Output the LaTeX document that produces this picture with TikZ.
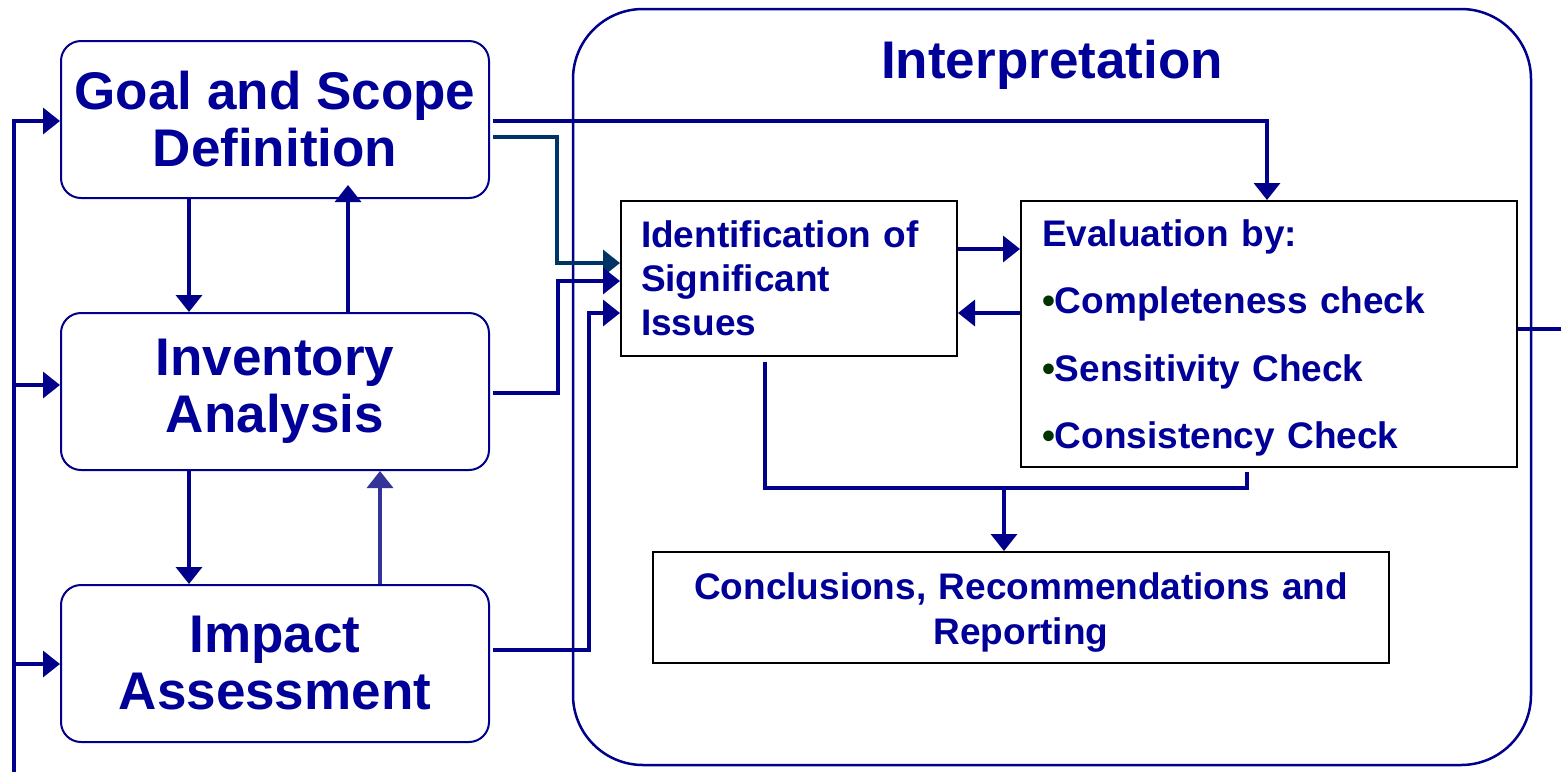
\documentclass[tikz,border=0pt]{standalone}
\usepackage{fontspec}
\setmainfont{Liberation Sans}
\usetikzlibrary{arrows.meta}

\newlength{\du}
\setlength{\du}{1pt}

\definecolor{stagetext}{rgb}{0.000000, 0.000000, 0.600000}
\definecolor{flowline}{rgb}{0.000000, 0.000000, 0.540000}
\definecolor{backline}{rgb}{0.200000, 0.200000, 0.600000}
\definecolor{tealline}{rgb}{0.000000, 0.200000, 0.400000}
\definecolor{bulletgreen}{rgb}{0.000000, 0.200000, 0.000000}

\tikzset{
  stagebox/.style={draw=flowline, line width=2\du, rounded corners=20\du, fill=white,
    text=stagetext, minimum width=428\du, minimum height=157\du, align=center,
    inner sep=0pt, font=\fontsize{53}{57}\selectfont\bfseries},
  stepbox/.style={draw=black, line width=2\du, fill=white, text=stagetext,
    inner xsep=20\du, inner ysep=0pt, font=\fontsize{37}{44}\selectfont\bfseries},
  wire/.style={draw=flowline, line width=3.5\du},
  flow/.style={wire, -{Triangle[width=26pt,length=17pt]}},
  backflow/.style={flow, draw=backline},
  tealflow/.style={flow, draw=tealline}
}

\newcommand{\evalbullet}{\textcolor{bulletgreen}{\textbullet}}

\begin{document}
\begin{tikzpicture}
\pgftransformxscale{1.000000}
\pgftransformyscale{-1.000000}
\useasboundingbox (0\du,0\du) rectangle (1561\du,772\du);
% interpretation frame
\node (interp) [draw=flowline, line width=2.5\du, rounded corners=70\du, fill=white,
  minimum width=958\du, minimum height=756\du, inner sep=0pt] at (1052\du,387\du) {};
\node (interptitle) [text=stagetext, font=\fontsize{53}{57}\selectfont\bfseries] at (1052\du,65\du) {Interpretation};
% stages
\node (goal) [stagebox] at (275\du,119.5\du) {Goal and Scope\\Definition};
\node (inv) [stagebox] at (275\du,391.5\du) {Inventory\\Analysis};
\node (imp) [stagebox] at (275\du,663.5\du) {Impact\\Assessment};
% interpretation steps
\node (ident) [stepbox, text width=296\du, align=left, minimum height=155\du] at (789\du,278.5\du)
  {Identification of\\Significant\\Issues};
\node (eval) [stepbox, inner xsep=21\du, text width=454\du, align=left, minimum height=266\du,
  font=\fontsize{37}{67.5}\selectfont\bfseries] at (1269\du,334\du)
  {\rule{0pt}{35pt}Evaluation by:\\\evalbullet Completeness check\\\evalbullet Sensitivity Check\\\evalbullet Consistency Check};
\node (concl) [stepbox, text width=696\du, align=center, minimum height=111\du,
  font=\fontsize{37}{45}\selectfont\bfseries] at (1021\du,607.5\du)
  {\rule{0pt}{37pt}Conclusions, Recommendations and\\Reporting};
% feedback on the left
\coordinate (fbbot) at (14\du,772\du);
\coordinate (fbtop) at (14\du,121\du);
\coordinate (fbinv) at (14\du,385\du);
\coordinate (fbimp) at (14\du,664\du);
\draw[flow] (fbbot) -- (fbtop) -- (fbtop -| goal.west);
\draw[flow] (fbinv) -- (fbinv -| inv.west);
\draw[flow] (fbimp) -- (fbimp -| imp.west);
% between the stages
\coordinate (lanedown) at (189\du,0\du);
\coordinate (upgoal) at (348\du,185\du);
\coordinate (laneup) at (380\du,0\du);
\draw[flow] (goal.south -| lanedown) -- (inv.north -| lanedown);
\draw[flow] (inv.north -| upgoal) -- (upgoal);
\draw[flow] (inv.south -| lanedown) -- (imp.north -| lanedown);
\draw[backflow] (imp.north -| laneup) -- (inv.south -| laneup);
% stages into interpretation
\coordinate (goalout) at (493\du,121\du);
\coordinate (evalin) at (1267\du,0\du);
\draw[flow] (goalout) -| (eval.north -| evalin);
\coordinate (goalout2) at (493\du,137\du);
\coordinate (tealbend) at (557\du,263\du);
\draw[tealflow] (goalout2) -| (tealbend) -- (tealbend -| ident.west);
\coordinate (invout) at (493\du,393\du);
\coordinate (invbend) at (558\du,281\du);
\draw[flow] (invout) -| (invbend) -- (invbend -| ident.west);
\coordinate (impout) at (493\du,650\du);
\coordinate (impbend) at (589\du,313\du);
\draw[flow] (impout) -| (impbend) -- (impbend -| ident.west);
% identification and evaluation
\coordinate (fwd) at (0\du,249\du);
\coordinate (bwd) at (0\du,313\du);
\draw[flow] (ident.east |- fwd) -- (eval.west |- fwd);
\draw[flow] (eval.west |- bwd) -- (ident.east |- bwd);
% to conclusions
\coordinate (merge) at (1004\du,488\du);
\coordinate (identout) at (765\du,362\du);
\coordinate (evalout) at (1247\du,472\du);
\draw[wire] (identout) |- (merge);
\draw[wire] (evalout) |- (merge);
\draw[flow] (merge) -- (merge |- concl.north);
% out on the right
\coordinate (exit) at (1561\du,329\du);
\draw[wire] (eval.east |- exit) -- (exit);
\end{tikzpicture}
\end{document}
